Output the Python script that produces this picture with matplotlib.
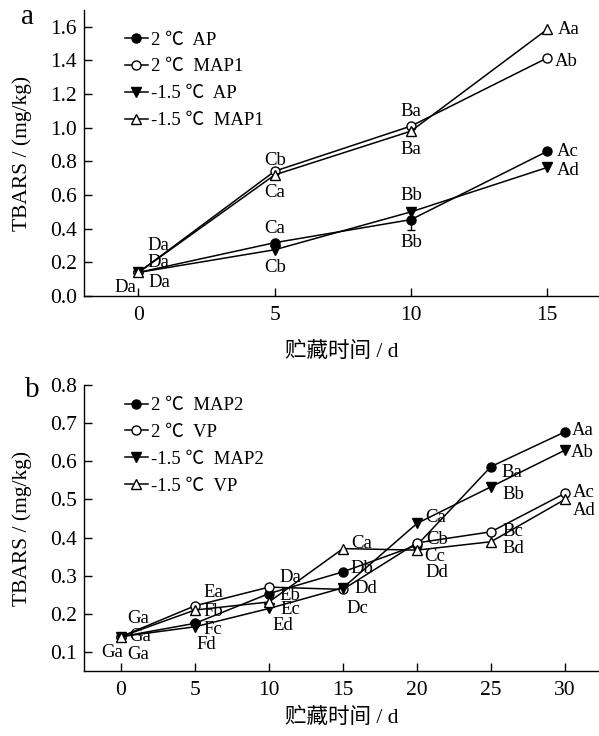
import matplotlib
matplotlib.use("Agg")
import matplotlib.pyplot as plt

plt.rcParams['font.family'] = ['Liberation Serif', 'Noto Sans CJK SC', 'DejaVu Sans']
plt.rcParams['mathtext.fontset'] = 'stix'

# panel a: storage days 0-15
days_a = [0, 5, 10, 15]
ap_2 = [0.14, 0.317, 0.454, 0.86]
ap_2_err = [0.01, 0.01, 0.06, 0.01]
map1_2 = [0.14, 0.742, 1.01, 1.415]
ap_m15 = [0.14, 0.275, 0.50, 0.764]
map1_m15 = [0.14, 0.72, 0.98, 1.585]

lab_ap_2 = ['Da', 'Ca', 'Bb', 'Ac']
lab_map1_2 = ['Da', 'Cb', 'Ba', 'Ab']
lab_ap_m15 = ['Da', 'Cb', 'Bb', 'Ad']
lab_map1_m15 = ['Da', 'Ca', 'Ba', 'Aa']

# panel b: storage days 0-30
days_b = [0, 5, 10, 15, 20, 25, 30]
map2_2 = [0.14, 0.175, 0.253, 0.31, 0.38, 0.586, 0.677]
vp_2 = [0.14, 0.221, 0.27, 0.264, 0.386, 0.415, 0.516]
map2_m15 = [0.14, 0.166, 0.214, 0.268, 0.437, 0.533, 0.629]
vp_m15 = [0.14, 0.21, 0.231, 0.371, 0.367, 0.389, 0.50]

lab_map2_2 = ['Ga', 'Fc', 'Eb', 'Db', 'Dd', 'Ba', 'Aa']
lab_vp_2 = ['Ga', 'Ea', 'Da', 'Dc', 'Cb', 'Bc', 'Ac']
lab_map2_m15 = ['Ga', 'Fd', 'Ed', 'Dd', 'Ca', 'Bb', 'Ab']
lab_vp_m15 = ['Ga', 'Fb', 'Ec', 'Ca', 'Cc', 'Bd', 'Ad']

# label offsets in pixels (dx right, dy down)
off_ap_2 = [(21, 10), (0, -14), (0, 23), (21, 0)]
off_map1_2 = [(20, -27), (0, -11), (0, -15), (19, 4)]
off_ap_m15 = [(-13, 15), (0, 18), (0, -16), (21, 3)]
off_map1_m15 = [(20, -10), (0, 18), (0, 18), (22, 0)]

off_map2_2 = [(17, -18), (18, 6), (21, 2), (19, -3), (20, 27), (21, 6), (18, -1)]
off_vp_2 = [(19, 0), (18, -13), (21, -10), (14, 19), (20, -3), (22, 0), (19, -1)]
off_map2_m15 = [(-9, 16), (11, 18), (14, 17), (23, 1), (19, -6), (22, 8), (17, 2)]
off_vp_m15 = [(17, 18), (18, 2), (21, 8), (19, -5), (18, 6), (22, 7), (19, 11)]

fig = plt.figure(figsize=(5.99, 7.36), dpi=100)
ax1 = fig.add_axes([84 / 599, 1 - 296 / 736, 515 / 599, 286 / 736])
ax2 = fig.add_axes([84 / 599, 1 - 671 / 736, 515 / 599, 286 / 736])

line_kw = dict(color='black', lw=1.1, mew=1.0)


def draw_series(ax, x, y, marker, filled, name, labels, offsets, ms, yerr=None):
    face = 'black' if filled else 'white'
    ax.errorbar(x, y, yerr=yerr, marker=marker, ms=ms, mfc=face, mec='black',
                ecolor='black', elinewidth=1.0, capsize=3, label=name, **line_kw)
    for xi, yi, t, (dx, dy) in zip(x, y, labels, offsets):
        ax.annotate(t, (xi, yi), xytext=(dx, -dy), textcoords='offset pixels',
                    ha='center', va='center', fontsize=13.5)


draw_series(ax1, days_a, ap_2, 'o', True, '2 ℃  AP', lab_ap_2, off_ap_2, 6.5, ap_2_err)
draw_series(ax1, days_a, map1_2, 'o', False, '2 ℃  MAP1', lab_map1_2, off_map1_2, 6.5)
draw_series(ax1, days_a, ap_m15, 'v', True, '-1.5 ℃  AP', lab_ap_m15, off_ap_m15, 7.5)
draw_series(ax1, days_a, map1_m15, '^', False, '-1.5 ℃  MAP1', lab_map1_m15, off_map1_m15, 7.5)

draw_series(ax2, days_b, map2_2, 'o', True, '2 ℃  MAP2', lab_map2_2, off_map2_2, 6.5)
draw_series(ax2, days_b, vp_2, 'o', False, '2 ℃  VP', lab_vp_2, off_vp_2, 6.5)
draw_series(ax2, days_b, map2_m15, 'v', True, '-1.5 ℃  MAP2', lab_map2_m15, off_map2_m15, 7.5)
draw_series(ax2, days_b, vp_m15, '^', False, '-1.5 ℃  VP', lab_vp_m15, off_vp_m15, 7.5)

ax1.set_xlim(-2, 16.9)
ax1.set_ylim(0, 1.7)
ax1.set_xticks([0, 5, 10, 15])
ax1.set_yticks([0.0, 0.2, 0.4, 0.6, 0.8, 1.0, 1.2, 1.4, 1.6])
ax1.set_yticklabels(['%.1f' % v for v in ax1.get_yticks()])

ax2.set_xlim(-2.5, 32.3)
ax2.set_ylim(0.05, 0.8)
ax2.set_xticks([0, 5, 10, 15, 20, 25, 30])
ax2.set_yticks([0.1, 0.2, 0.3, 0.4, 0.5, 0.6, 0.7, 0.8])
ax2.set_yticklabels(['%.1f' % v for v in ax2.get_yticks()])

for ax, lx, ly, leg_y in [(ax1, -0.12, -0.196, 0.925), (ax2, -0.12, -0.164, 0.958)]:
    for s in ['top', 'right']:
        ax.spines[s].set_visible(False)
    for s in ['left', 'bottom']:
        ax.spines[s].set_linewidth(1.0)
    ax.tick_params(direction='in', length=6, width=1.0, labelsize=15.5)
    ax.tick_params(axis='x', pad=7)
    ax.tick_params(axis='y', pad=5)
    ax.set_ylabel('TBARS / (mg/kg)', fontsize=15.5)
    ax.set_xlabel('贮藏时间 / d', fontsize=15.5)
    ax.yaxis.set_label_coords(lx, 0.5)
    ax.xaxis.set_label_coords(0.5, ly)
    ax.xaxis.label.set_va('center')
    ax.yaxis.label.set_va('center')
    handles, labels = ax.get_legend_handles_labels()
    handles = [h[0] for h in handles]
    ax.legend(handles, labels, loc='upper left', bbox_to_anchor=(0.08, leg_y),
              frameon=False, fontsize=13.5, handlelength=1.2, handletextpad=0.2,
              labelspacing=0.52, borderpad=0, borderaxespad=0, markerscale=1.0)

fig.text(28 / 599, 1 - 17 / 736, 'a', fontsize=21, ha='center', va='center')
fig.text(32 / 599, 1 - 390 / 736, 'b', fontsize=21, ha='center', va='center')

fig.savefig('out.png', dpi=100)
